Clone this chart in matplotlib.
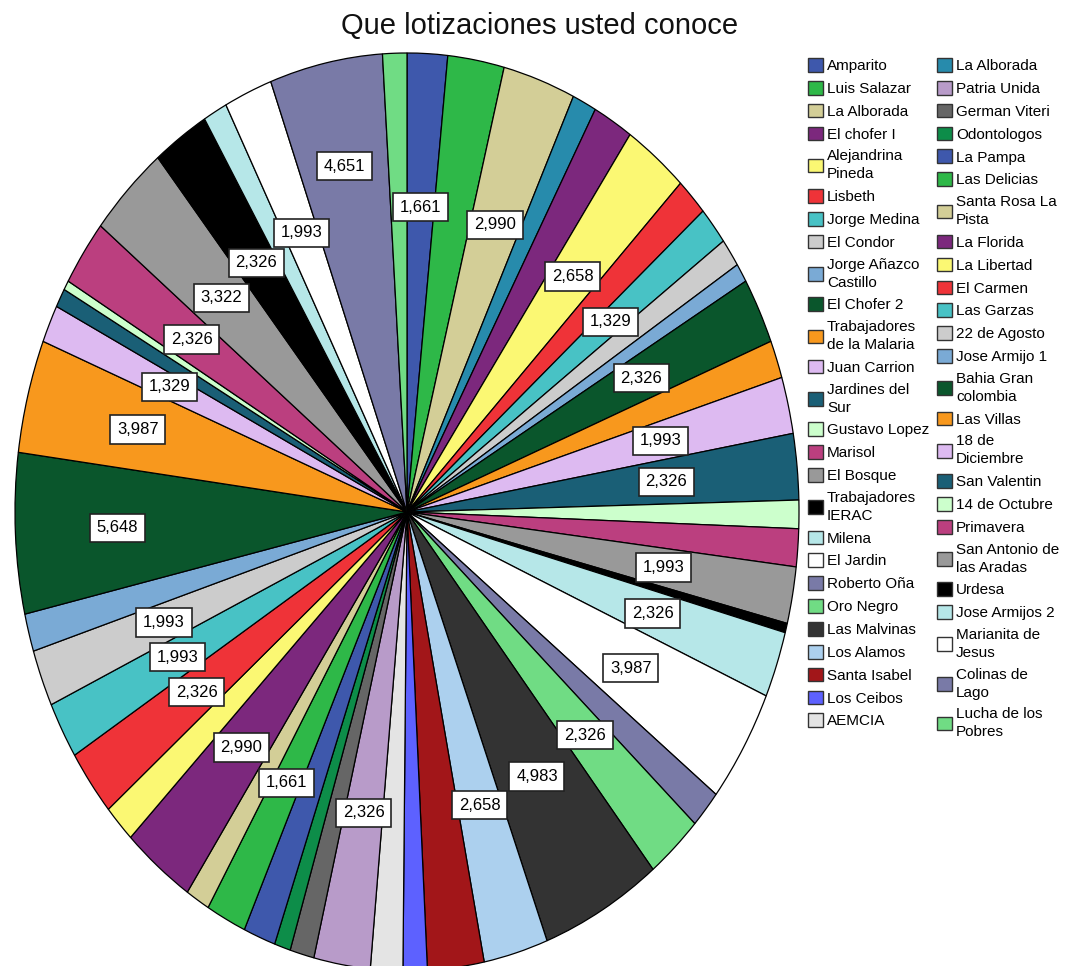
import numpy as np
import matplotlib.pyplot as plt
from matplotlib.patches import Patch

plt.rcParams['font.family'] = ['Liberation Sans', 'DejaVu Sans']

# Categorías (orden de la leyenda) y frecuencias de respuesta (n = 301)
categorias = [
    'Amparito', 'Luis Salazar', 'La Alborada', 'El chofer I', 'Alejandrina\nPineda',
    'Lisbeth', 'Jorge Medina', 'El Condor', 'Jorge Añazco\nCastillo', 'El Chofer 2',
    'Trabajadores\nde la Malaria', 'Juan Carrion', 'Jardines del\nSur', 'Gustavo Lopez',
    'Marisol', 'El Bosque', 'Trabajadores\nIERAC', 'Milena', 'El Jardin', 'Roberto Oña',
    'Oro Negro', 'Las Malvinas', 'Los Alamos', 'Santa Isabel', 'Los Ceibos', 'AEMCIA',
    'La Alborada', 'Patria Unida', 'German Viteri', 'Odontologos', 'La Pampa',
    'Las Delicias', 'Santa Rosa La\nPista', 'La Florida', 'La Libertad', 'El Carmen',
    'Las Garzas', '22 de Agosto', 'Jose Armijo 1', 'Bahia Gran\ncolombia', 'Las Villas',
    '18 de\nDiciembre', 'San Valentin', '14 de Octubre', 'Primavera',
    'San Antonio de\nlas Aradas', 'Urdesa', 'Jose Armijos 2', 'Marianita de\nJesus',
    'Colinas de\nLago', 'Lucha de los\nPobres',
]
frecuencias = [
    5, 7, 9, 5, 8, 4, 4, 3, 2, 7,
    4, 6, 7, 3, 4, 6, 1, 7, 12, 4,
    7, 15, 8, 7, 3, 4, 3, 7, 3, 2,
    4, 5, 3, 9, 4, 7, 6, 6, 4, 17,
    12, 4, 2, 1, 7, 10, 7, 3, 6, 14,
    3,
]

# orden de los sectores en el pastel (la segunda "La Alborada" va tras la primera)
orden_pastel = [0, 1, 2, 26, 3, 4, 5, 6, 7, 8, 9, 10, 11, 12, 13, 14, 15, 16, 17, 18,
                19, 20, 21, 22, 23, 24, 25] + list(range(27, 51))

# sectores que llevan etiqueta de porcentaje
con_etiqueta = [0, 2, 4, 6, 9, 11, 12, 15, 17, 18, 20, 21, 22, 27, 31, 33, 35, 36, 37,
                39, 40, 41, 44, 45, 46, 48, 49]

paleta = [
    '#3E58AC', '#2EB848', '#D3CE97', '#7C287D', '#FBF873', '#EF3338', '#48C2C5',
    '#CCCCCC', '#7AAAD5', '#0A562C', '#F8981D', '#DDBAF1', '#1A5F76', '#CCFFCC',
    '#BB3F7F', '#999999', '#000000', '#B6E7E8', '#FFFFFF', '#797AA7', '#70DC84',
    '#333333', '#ACD0EE', '#A21619', '#5D61FF', '#E4E4E4', '#278BAC', '#B89BC9',
    '#666666', '#0D8D49',
]
colores = paleta + paleta[:21]

total = sum(frecuencias)
valores = [frecuencias[i] for i in orden_pastel]
colores_pastel = [colores[i] for i in orden_pastel]

fig = plt.figure(figsize=(10.65, 9.66), dpi=100)

# pastel estirado en vertical: centro (407, 512) px, radios 392 x 459 px
W, H = 1065, 966
cx, cy, rx, ry = 407, H - 512, 392, 459
lim = 1.02
ax = fig.add_axes([(cx - lim * rx) / W, (cy - lim * ry) / H,
                   2 * lim * rx / W, 2 * lim * ry / H])
wedges, _ = ax.pie(valores, colors=colores_pastel, startangle=90, counterclock=False,
                   wedgeprops=dict(edgecolor='black', linewidth=0.9))
ax.set_aspect('auto')
ax.set_xlim(-lim, lim)
ax.set_ylim(-lim, lim)

radio_etiqueta = {39: 0.74, 40: 0.71, 49: 0.77}
for w, idx in zip(wedges, orden_pastel):
    if idx not in con_etiqueta:
        continue
    ang = np.deg2rad((w.theta1 + w.theta2) / 2)
    r = radio_etiqueta.get(idx, 0.665)
    pct = f'{100 * frecuencias[idx] / total:.3f}'.replace('.', ',')
    ax.text(r * np.cos(ang), r * np.sin(ang), pct, ha='center', va='center',
            fontsize=12, color='black',
            bbox=dict(boxstyle='square,pad=0.4', fc='white', ec='#222222', lw=1.2))

fig.text(540 / W, 1 - 26 / H, 'Que lotizaciones usted conoce', ha='center',
         va='center', fontsize=21, color='#111111')

# leyenda en dos columnas independientes
handles = [Patch(facecolor=c, edgecolor='#333333', linewidth=1.0) for c in colores]
columnas = [(range(0, 26), 808), (range(26, 51), 937)]
for rango, x0 in columnas:
    leg = fig.legend([handles[i] for i in rango], [categorias[i] for i in rango],
                     loc='upper left', bbox_to_anchor=(x0 / W, 1 - 58 / H),
                     frameon=False, fontsize=11, borderpad=0, borderaxespad=0,
                     handlelength=1.0, handleheight=1.0, handletextpad=0.25,
                     labelspacing=0.51)
    for t in leg.get_texts():
        t.set_linespacing(1.35)

fig.savefig('out.png', dpi=100)
